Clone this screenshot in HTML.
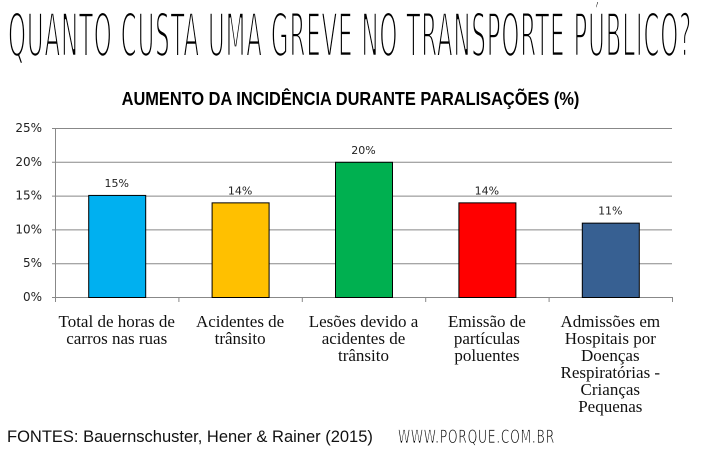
<!DOCTYPE html>
<html><head><meta charset="utf-8"><style>
body{margin:0;background:#fff;width:701px;height:458px;overflow:hidden;position:relative;font-family:"Liberation Sans",sans-serif}
#title{position:absolute;left:8px;top:1px;font-family:"DejaVu Sans Condensed","Liberation Sans Narrow",sans-serif;font-size:60px;letter-spacing:2px;white-space:nowrap;transform-origin:0 0;color:#000;-webkit-text-stroke:2.6px #fff}
#sub{position:absolute;left:0;width:701px;top:89px;text-align:center;font-weight:bold;font-size:18px;transform:scaleX(.91)}
#foot{position:absolute;left:7px;top:428px;font-size:16.5px;color:#111}
#site{position:absolute;left:398px;top:426px;font-family:"DejaVu Sans Condensed",sans-serif;font-size:19px;letter-spacing:1px;white-space:nowrap;transform-origin:0 0;color:#000;-webkit-text-stroke:0.7px #fff}
svg{position:absolute;left:0;top:0}
</style></head><body>
<div id="title">QUANTO CUSTA UMA GREVE NO TRANSPORTE PÚBLICO?</div>
<div id="sub">AUMENTO DA INCIDÊNCIA DURANTE PARALISAÇÕES (%)</div>
<svg id="chart" width="701" height="458"></svg>
<div id="foot">FONTES: Bauernschuster, Hener &amp; Rainer (2015)</div>
<div id="site">WWW.PORQUE.COM.BR</div>
<script>
const categories=[["Total de horas de","carros nas ruas"],["Acidentes de","trânsito"],["Lesões devido a","acidentes de","trânsito"],["Emissão de","partículas","poluentes"],["Admissões em","Hospitais por","Doenças","Respiratórias -","Crianças","Pequenas"]];
const values=[15.1,14,20,14,11];
const labels=["15%","14%","20%","14%","11%"];
const colors=["#00b0f0","#ffc000","#00b050","#ff0000","#376092"];
const ticks=[0,5,10,15,20,25];
const NS="http://www.w3.org/2000/svg";
const svg=document.getElementById('chart');
const x0=55,x1=672,y0=297,y1=128,cw=(x1-x0)/categories.length;
const y=v=>y0-(v/25)*(y0-y1);
function mk(t,a){const e=document.createElementNS(NS,t);for(const k in a)e.setAttribute(k,a[k]);svg.appendChild(e);return e;}
const t=document.getElementById('title');t.style.transform='scaleX('+(684/t.offsetWidth)+')';
const s=document.getElementById('site');s.style.transform='scaleX('+(157/s.offsetWidth)+')';
ticks.forEach(v=>{
 const l=mk('line',{x1:52,x2:x1,y1:y(v)+.5,y2:y(v)+.5,stroke:'#888','stroke-width':1});
 
 
 const tx=mk('text',{x:42,y:y(v)+4,'text-anchor':'end','font-size':12,fill:'#222','font-family':'"DejaVu Sans",sans-serif'});
 tx.textContent=v+'%';
 
 
});
const ax=mk('line',{x1:x0+.5,x2:x0+.5,y1:y1,y2:y0+5,stroke:'#888'});


for(let i=0;i<=categories.length;i++){const tk=mk('line',{x1:x0+i*cw+.5,x2:x0+i*cw+.5,y1:y0,y2:y0+5,stroke:'#888'});
 
 }
values.forEach((v,i)=>{
 const cx=x0+cw*(i+.5);
 const r=mk('rect',{x:cx-28.5+.5,y:y(v)+.5,width:57,height:y0-y(v),fill:colors[i],stroke:'#000','stroke-width':1});
 
 
 const lt=mk('text',{x:cx,y:y(v)-8,'text-anchor':'middle','font-size':11,fill:'#222','font-family':'"DejaVu Sans",sans-serif'});
 lt.textContent=labels[i];
 
 
 categories[i].forEach((s,j)=>{
  const c=mk('text',{x:cx,y:327+j*17,'text-anchor':'middle','font-size':17,fill:'#111','font-family':'"Liberation Serif",serif'});
  c.textContent=s;
  
  
 });
});
</script>
</body></html>
